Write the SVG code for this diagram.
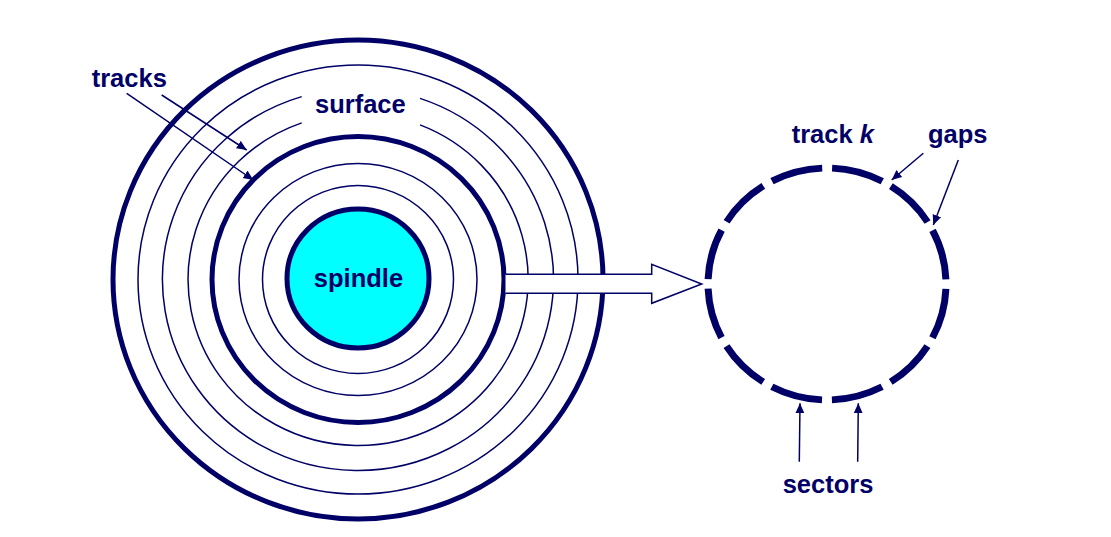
<svg xmlns="http://www.w3.org/2000/svg" width="1111" height="537" viewBox="0 0 1111 537">
  <style>
    .thick { fill: none; stroke: #000066; stroke-width: 5; }
    .thin { fill: none; stroke: #000066; stroke-width: 1.5; }
    .lbl { font-family: "Liberation Sans", Arial, sans-serif; font-weight: bold; font-size: 25.5px; fill: #000066; }
    .conn { fill: none; stroke: #000066; stroke-width: 1.5; }
  </style>
  <defs>
    <marker id="ah" viewBox="0 0 10 10" refX="10" refY="5" markerWidth="10" markerHeight="10" markerUnits="userSpaceOnUse" orient="auto">
      <path d="M0,0.5 L10,5 L0,9.5 Z" fill="#000066"/>
    </marker>
  </defs>
  <rect width="1111" height="537" fill="#ffffff"/>

  <g id="disk">
    <ellipse class="thick" cx="358" cy="279.5" rx="245" ry="239.5"/>
    <ellipse class="thin" cx="358" cy="279.5" rx="220" ry="214.5"/>
    <path class="thin" d="M301.7,96.6 A195.5,191 0 1 0 420,98.4"/>
    <path class="thin" d="M301.7,122.9 A170,166 0 1 0 420,124.9"/>
    <ellipse class="thick" cx="358" cy="279.5" rx="146" ry="143"/>
    <ellipse class="thin" cx="358" cy="279.5" rx="119" ry="116"/>
    <ellipse class="thin" cx="358" cy="279.5" rx="95.5" ry="94"/>
  </g>

  <g id="spindle">
    <ellipse cx="358" cy="278.5" rx="71" ry="69.5" fill="#00ffff" stroke="#000066" stroke-width="5"/>
    <text class="lbl" x="358.5" y="287" text-anchor="middle">spindle</text>
  </g>

  <g id="transfer-arrow">
    <path d="M505.5,274.3 H651.7 V264.3 L701.7,284 L651.7,303.3 V293.3 H505.5 Z" fill="#ffffff" stroke="none"/>
    <path d="M505.5,274.3 H651.7 V264.3 L701.7,284 L651.7,303.3 V293.3 H505.5" fill="none" stroke="#000066" stroke-width="1.5"/>
  </g>

  <g id="track-k">
    <circle cx="0" cy="0" r="119" transform="translate(827,284) scale(1,0.975)" fill="none" stroke="#000066" stroke-width="7" stroke-dasharray="52.3 10" stroke-dashoffset="57.3"/>
    <text class="lbl" x="791.7" y="143.3">track <tspan font-style="italic">k</tspan></text>
  </g>

  <g id="labels">
    <text class="lbl" x="91.7" y="86.7">tracks</text>
    <text class="lbl" x="315" y="113">surface</text>
    <text class="lbl" x="928" y="143.3">gaps</text>
    <text class="lbl" x="782.7" y="492.7">sectors</text>
  </g>

  <g id="connectors">
    <line class="conn" x1="161.7" y1="95" x2="246.7" y2="150" marker-end="url(#ah)"/>
    <line class="conn" x1="126.7" y1="93.3" x2="253.3" y2="180" marker-end="url(#ah)"/>
    <line class="conn" x1="923.3" y1="153.3" x2="891.7" y2="180" marker-end="url(#ah)"/>
    <line class="conn" x1="958.3" y1="160" x2="933.3" y2="225" marker-end="url(#ah)"/>
    <line class="conn" x1="799.3" y1="461.7" x2="800" y2="403.3" marker-end="url(#ah)"/>
    <line class="conn" x1="857.7" y1="461.7" x2="858.3" y2="403.3" marker-end="url(#ah)"/>
  </g>
</svg>
